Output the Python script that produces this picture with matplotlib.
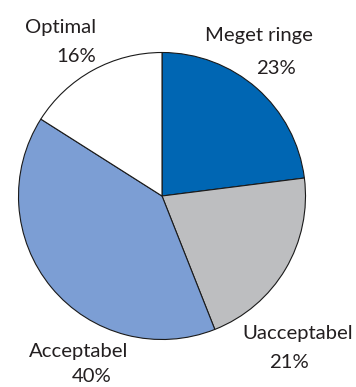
import matplotlib.pyplot as plt

# shares per category, clockwise from 12 o'clock
labels = ['Meget ringe', 'Uacceptabel', 'Acceptabel', 'Optimal']
shares = [23, 21, 40, 16]
colors = ['#0066b3', '#bdbec0', '#7c9ed4', '#ffffff']

# label anchor points in figure pixels (name line, percent line)
name_pos = [(259, 35), (298, 333), (79, 351), (61, 28)]
pct_pos = [(276, 69), (289, 363), (92, 377), (76, 57)]

W, H = 356, 387
fig = plt.figure(figsize=(W / 100, H / 100), dpi=100)
ax = fig.add_axes([0, 0, 1, 1])

# pie centre at (162, 196) px, radius 143.5 px
cx, cy, r = 162, 196, 143.5
ax.axis('off')

ax.pie(shares, colors=colors, startangle=90, counterclock=False,
       wedgeprops=dict(edgecolor='#1a1a1a', linewidth=0.8))
ax.set_xlim(-cx / r, (W - cx) / r)
ax.set_ylim(-(H - cy) / r, cy / r)
ax.set_aspect('auto')

font = dict(family='Lato', size=14.6, color='#231f20',
            ha='center', va='center')
for name, pct, (nx, ny), (px, py) in zip(labels, shares, name_pos, pct_pos):
    fig.text(nx / W, 1 - ny / H, name, **font)
    fig.text(px / W, 1 - py / H, f'{pct}%', **font)

fig.savefig('out.png', dpi=100)
